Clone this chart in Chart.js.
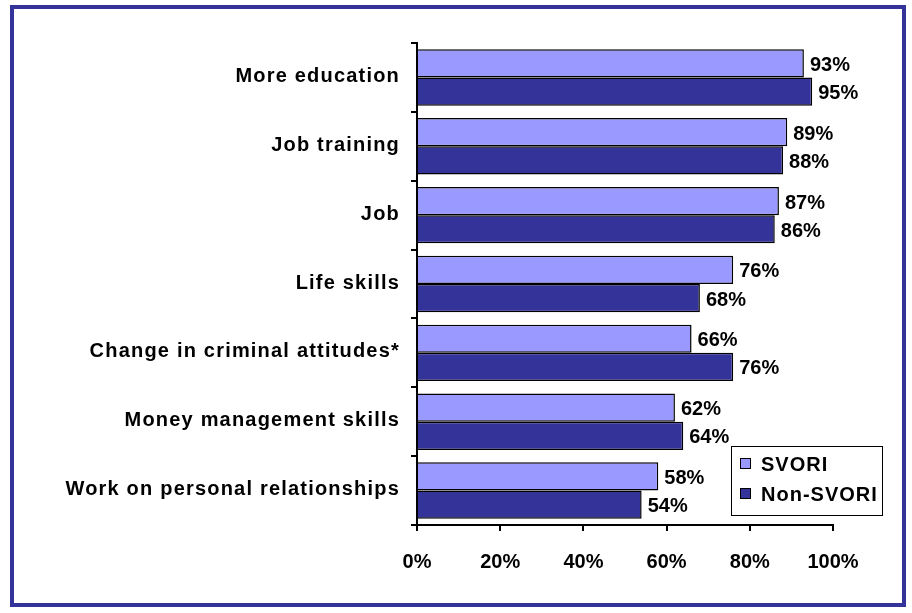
<!DOCTYPE html>
<html lang="en">
<head>
<meta charset="UTF-8">
<title>SVORI vs Non-SVORI</title>
<script src="https://cdn.jsdelivr.net/npm/chart.js@4.4.1/dist/chart.umd.min.js"></script>
<style>
body { margin: 0; background: #fff; }
#frame {
    position: absolute; left: 10px; top: 5px;
    width: 888px; height: 594px;
    border: 4px solid #333399;
}
#wrap { position: absolute; left: 0; top: 0; width: 912px; height: 613px; }
</style>
</head>
<body>
<div id="frame"></div>
<div id="wrap"><canvas id="chart" width="912" height="613"></canvas></div>
<script>
const categories = ["More education", "Job training", "Job", "Life skills",
    "Change in criminal attitudes*", "Money management skills", "Work on personal relationships"];
const svori = [93, 89, 87, 76, 66, 62, 58];
const nonSvori = [95, 88, 86, 68, 76, 64, 54];
const xTicks = [0, 20, 40, 60, 80, 100];

const FONT_CSS = "bold 20px 'Liberation Sans', Arial, sans-serif";
const FONT = { family: "'Liberation Sans', Arial, sans-serif", size: 20, weight: "bold" };

// category names, drawn by hand so they can get the wide letter spacing of the original
const catLabels = {
    id: "catLabels",
    afterDraw(chart) {
        const ctx = chart.ctx;
        const y = chart.scales.y;
        ctx.save();
        ctx.font = FONT_CSS;
        ctx.letterSpacing = "1.2px";
        ctx.fillStyle = "#000";
        ctx.textAlign = "right";
        ctx.textBaseline = "middle";
        categories.forEach((c, i) => {
            ctx.fillText(c, 400, y.getPixelForValue(i) - 1);
        });
        ctx.restore();
    }
};

// value labels at the end of each bar
const barLabels = {
    id: "barLabels",
    afterDatasetsDraw(chart) {
        const ctx = chart.ctx;
        ctx.save();
        ctx.font = FONT_CSS;
        ctx.fillStyle = "#000";
        ctx.textBaseline = "middle";
        chart.data.datasets.forEach((ds, i) => {
            chart.getDatasetMeta(i).data.forEach((bar, j) => {
                ctx.fillText(ds.data[j] + "%", bar.x + 6, bar.y + 2);
            });
        });
        ctx.restore();
    }
};

// boxed legend in the lower right
const boxLegend = {
    id: "boxLegend",
    afterDraw(chart) {
        const ctx = chart.ctx;
        const x = 731, y = 446, w = 151, h = 69;
        ctx.save();
        ctx.fillStyle = "#fff";
        ctx.fillRect(x, y, w, h);
        ctx.strokeStyle = "#000";
        ctx.lineWidth = 1;
        ctx.strokeRect(x + 0.5, y + 0.5, w, h);
        ctx.font = FONT_CSS;
        ctx.letterSpacing = "1px";
        ctx.textBaseline = "middle";
        chart.data.datasets.forEach((ds, i) => {
            const cy = y + 17 + i * 30;
            ctx.fillStyle = ds.backgroundColor;
            ctx.fillRect(x + 9, cy - 5, 10, 10);
            ctx.strokeRect(x + 9.5, cy - 4.5, 10, 10);
            ctx.fillStyle = "#000";
            ctx.fillText(ds.label, x + 30, cy + 2);
        });
        ctx.restore();
    }
};

new Chart(document.getElementById("chart"), {
    type: "bar",
    data: {
        labels: categories,
        datasets: [
            { label: "SVORI", data: svori, backgroundColor: "#9999FF", borderColor: "#000", borderWidth: 1.5 },
            { label: "Non-SVORI", data: nonSvori, backgroundColor: "#333399", borderColor: "#000", borderWidth: 1.5 }
        ]
    },
    options: {
        indexAxis: "y",
        responsive: false,
        animation: false,
        devicePixelRatio: 1,
        categoryPercentage: 0.82,
        barPercentage: 1,
        layout: { padding: { top: 43, right: 79, bottom: 0, left: 0 } },
        plugins: { legend: { display: false }, tooltip: { enabled: false } },
        scales: {
            x: {
                min: 0, max: 100,
                afterBuildTicks: (axis) => { axis.ticks = xTicks.map(v => ({ value: v })); },
                afterFit: (axis) => { axis.height = 88; },
                border: { color: "#000", width: 2 },
                grid: { drawOnChartArea: false, drawTicks: true, tickLength: 6, color: "#000", lineWidth: 2 },
                ticks: { color: "#000", font: FONT, padding: 19, callback: v => v + "%" }
            },
            y: {
                afterFit: (axis) => { axis.width = 417; },
                border: { color: "#000", width: 2 },
                grid: { drawOnChartArea: false, drawTicks: true, tickLength: 6, color: "#000", lineWidth: 2, offset: true },
                ticks: { display: false }
            }
        }
    },
    plugins: [barLabels, catLabels, boxLegend]
});
</script>
</body>
</html>
